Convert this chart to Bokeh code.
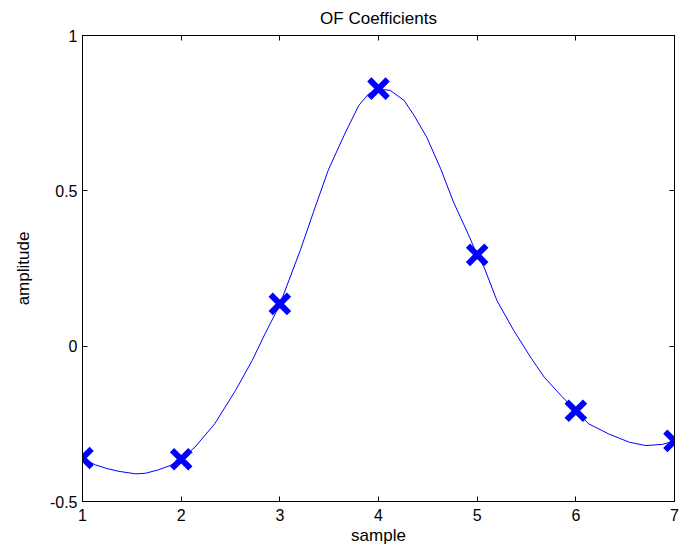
from bokeh.plotting import figure
from bokeh.models import LinearAxis, FixedTicker, Range1d, CustomLabelingPolicy
from bokeh.embed import file_html
from bokeh.resources import INLINE

# Data
samples = [1, 2, 3, 4, 5, 6, 7]
coeffs = [-0.360, -0.364, 0.136, 0.829, 0.294, -0.208, -0.305]

curve_x = [1.00, 1.13, 1.25, 1.37, 1.54, 1.64, 1.77, 1.89, 2.00, 2.14, 2.34, 2.55,
           2.72, 2.85, 2.96, 3.00, 3.04, 3.21, 3.34, 3.49, 3.65, 3.80, 3.90, 4.00,
           4.12, 4.26, 4.36, 4.49, 4.63, 4.76, 4.90, 5.00, 5.07, 5.20, 5.37, 5.54,
           5.68, 5.85, 6.00, 6.13, 6.33, 6.54, 6.71, 6.88, 7.00]
curve_y = [-0.360, -0.382, -0.394, -0.403, -0.411, -0.409, -0.398, -0.384, -0.364,
           -0.325, -0.250, -0.143, -0.046, 0.040, 0.108, 0.136, 0.168, 0.311, 0.431,
           0.566, 0.678, 0.775, 0.812, 0.828, 0.823, 0.791, 0.743, 0.672, 0.571,
           0.464, 0.367, 0.294, 0.254, 0.147, 0.051, -0.035, -0.100, -0.159, -0.208,
           -0.250, -0.282, -0.309, -0.320, -0.316, -0.305]

x_ticks = [1, 2, 3, 4, 5, 6, 7]
x_tick_labels = ["1", "2", "3", "4", "5", "6", "7"]
y_ticks = [-0.5, 0, 0.5, 1]
y_tick_labels = ["-0.5", "0", "0.5", "1"]

FONT = "Liberation Sans"

p = figure(width=689, height=550, output_backend="svg", toolbar_location=None,
           x_range=Range1d(1, 7), y_range=Range1d(-0.5, 1),
           title="OF Coefficients",
           min_border_left=82, min_border_right=15, min_border_top=35, min_border_bottom=49)

p.title.align = "center"
p.title.text_font = FONT
p.title.text_font_size = "17px"
p.title.text_font_style = "normal"
p.title.text_color = "black"
p.title.standoff = 8

p.xgrid.visible = False
p.ygrid.visible = False
p.outline_line_color = "black"
p.outline_line_width = 1
p.background_fill_color = "white"
p.border_fill_color = "white"

p.line(curve_x, curve_y, line_color="#0000FF", line_width=1)
p.scatter(samples, coeffs, marker="x", size=26, line_color="#0000FF", line_width=6)

def style_axis(ax, ticks, labels, show_labels=True):
    ax.ticker = FixedTicker(ticks=ticks)
    ax.major_tick_in = 5
    ax.major_tick_out = 0
    ax.minor_tick_in = 0
    ax.minor_tick_out = 0
    ax.axis_line_color = "black"
    ax.major_tick_line_color = "black"
    ax.major_label_text_font = FONT
    ax.major_label_text_color = "black"
    ax.axis_label_text_font = FONT
    ax.axis_label_text_font_size = "17px"
    ax.axis_label_text_font_style = "normal"
    ax.axis_label_text_color = "black"
    if show_labels:
        ax.major_label_overrides = {t: l for t, l in zip(ticks, labels)}
        ax.major_label_text_font_size = "16px"
    else:
        ax.major_label_policy = CustomLabelingPolicy(code="return false")
        ax.major_label_text_font_size = "1px"
        ax.major_label_standoff = 0

xa = p.xaxis[0]
style_axis(xa, x_ticks, x_tick_labels)
xa.axis_label = "sample"
xa.major_label_standoff = 7
xa.axis_label_standoff = 2

ya = p.yaxis[0]
style_axis(ya, y_ticks, y_tick_labels)
ya.axis_label = "amplitude"
ya.major_label_standoff = 5
ya.axis_label_standoff = 14

top = LinearAxis()
style_axis(top, x_ticks, x_tick_labels, show_labels=False)
p.add_layout(top, "above")

right = LinearAxis()
style_axis(right, y_ticks, y_tick_labels, show_labels=False)
p.add_layout(right, "right")

open("out.html", "w").write(file_html(p, INLINE))
